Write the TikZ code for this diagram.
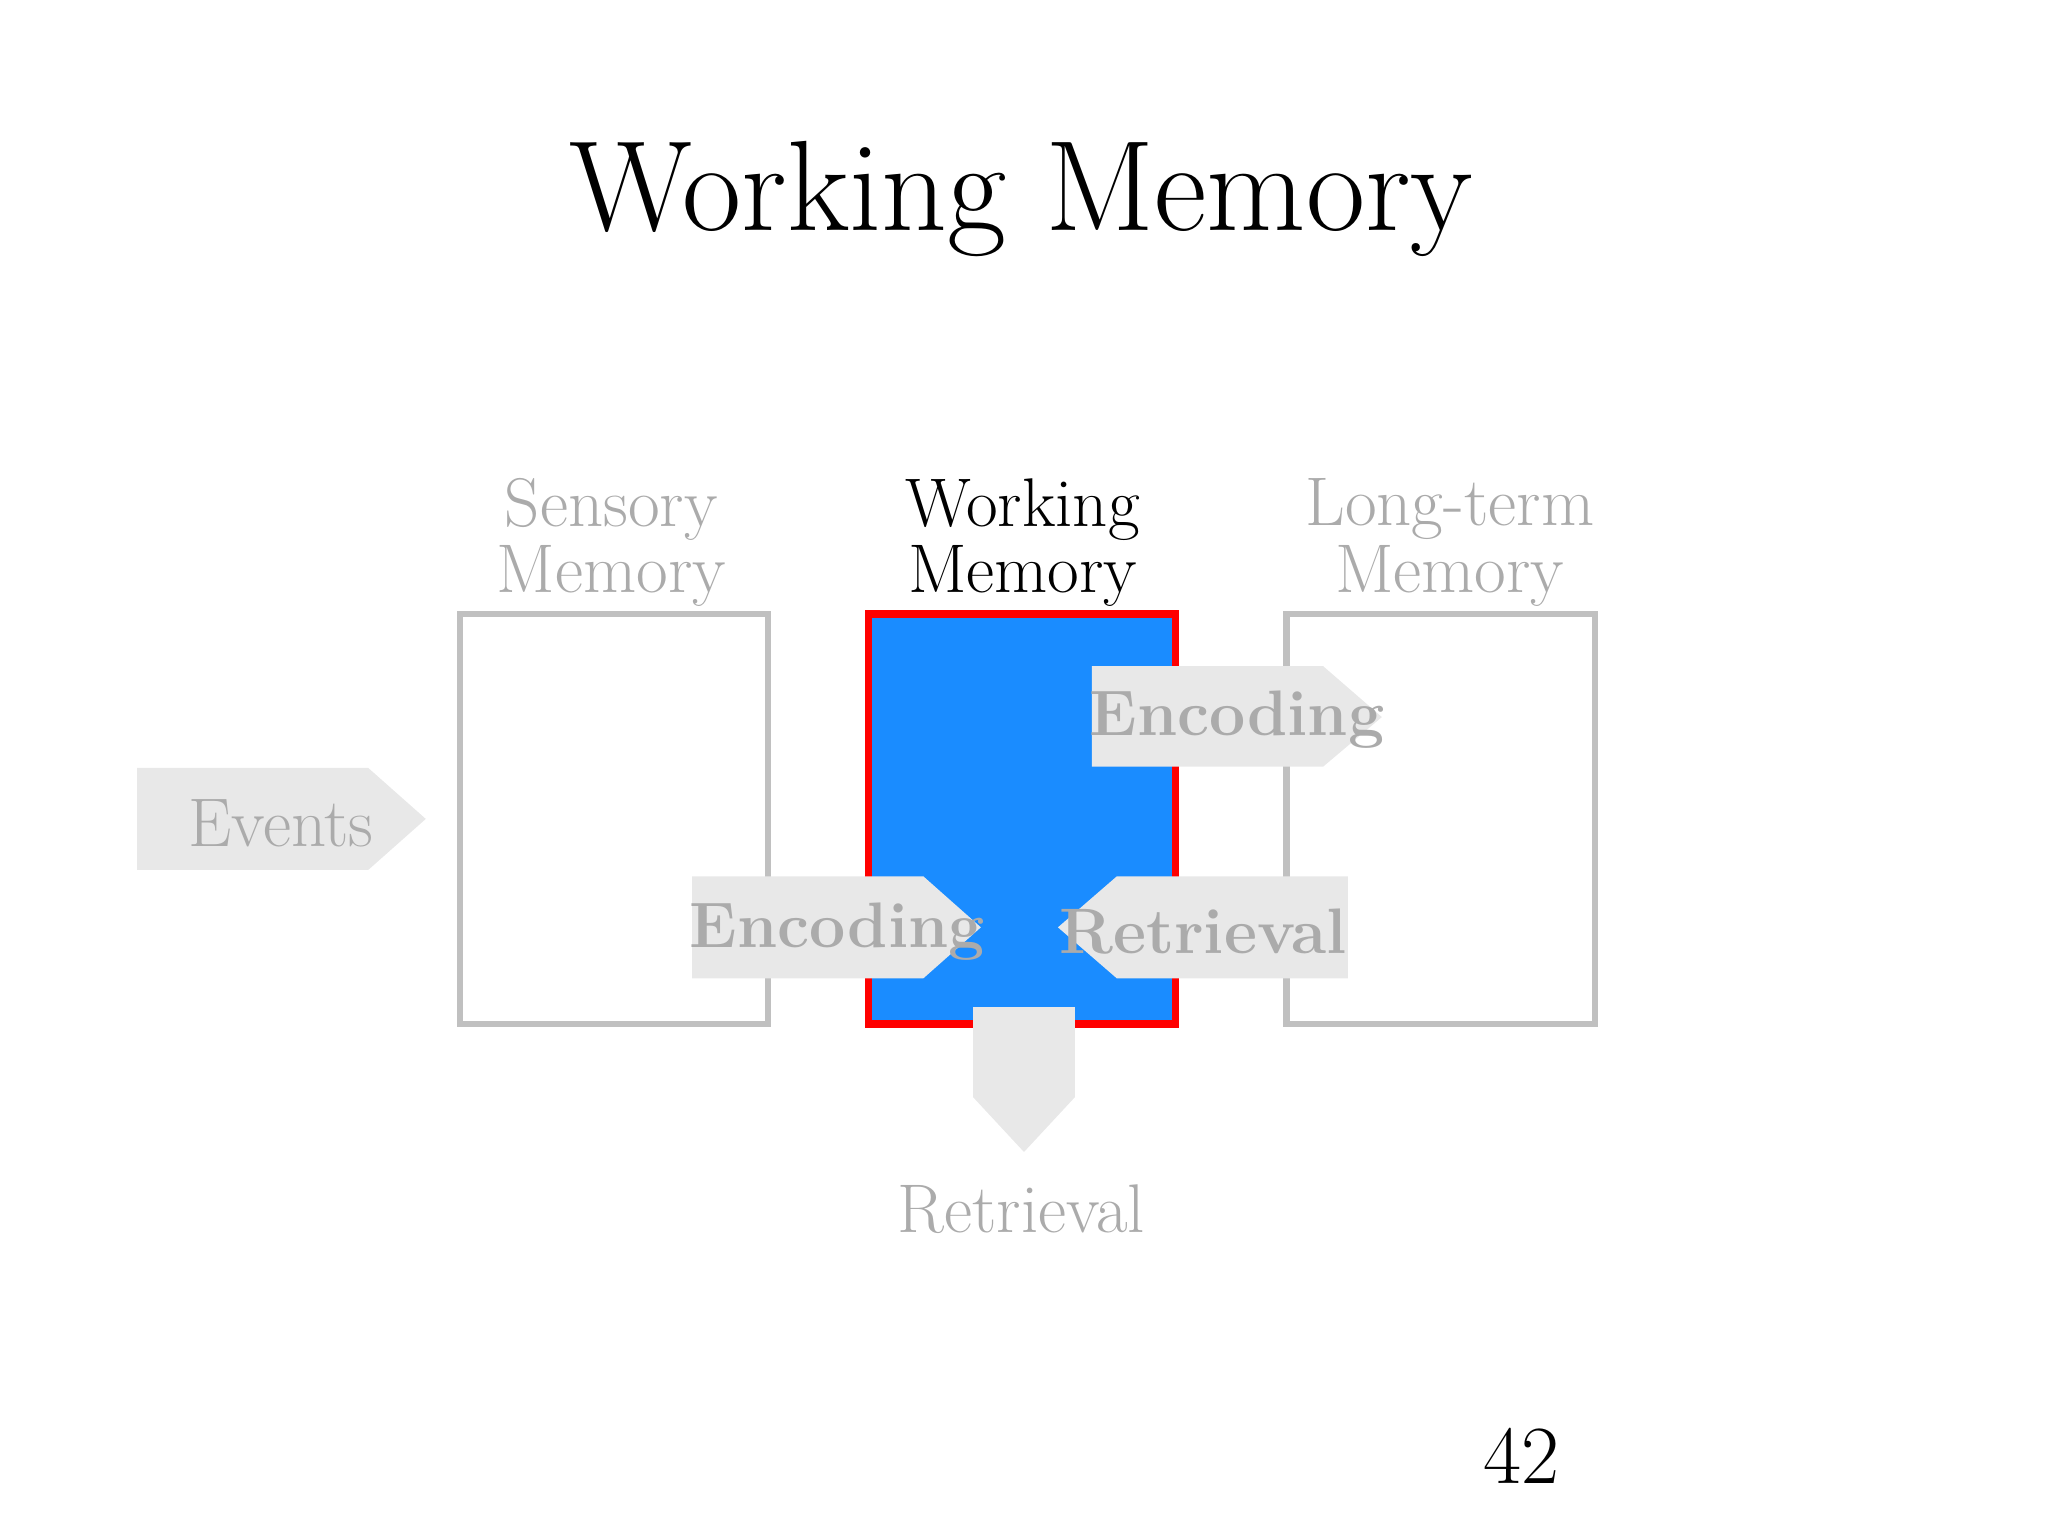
\documentclass[tikz,border=0pt]{standalone}
\definecolor{wmblue}{HTML}{1A8CFF}
\definecolor{boxgray}{HTML}{C0C0C0}
\definecolor{arrfill}{HTML}{E8E8E8}
\definecolor{txtgray}{HTML}{ABABAB}
\tikzset{
  membox/.style={draw=boxgray,line width=1.4pt},
  arr/.style={fill=arrfill,draw=none},
  lbl/.style={font=\fontsize{15}{15}\selectfont,text=txtgray,align=center},
  arrlbl/.style={font=\fontsize{14}{14}\selectfont\bfseries,text=txtgray}
}
\begin{document}
\begin{tikzpicture}[x=0.01cm,y=-0.01cm]
\useasboundingbox (0,0) rectangle (1568,1176);
\node[font=\fontsize{28}{28}\selectfont] (title) at (782,152) {Working Memory};
% boxes
\draw[membox] (352,470) rectangle (588,784);
\draw[fill=wmblue,draw=red,line width=1.6pt] (665,470) rectangle (900,784);
\draw[membox] (985,470) rectangle (1221,784);
% labels
\node[lbl,font=\fontsize{15}{15}\selectfont] (s1) at (468,390) {Sensory};
\node[lbl] (s2) at (468,441) {Memory};
\node[lbl,text=black] (w1) at (783,390) {Working};
\node[lbl,text=black] (w2) at (783,441) {Memory};
\node[lbl] (l1) at (1110,390) {Long-term};
\node[lbl] (l2) at (1110,441) {Memory};
% arrows
\fill[arr] (105,588) -- (282,588) -- (326,627) -- (282,666) -- (105,666) -- cycle;
\node[lbl,font=\fontsize{15}{15}\selectfont] (ev) at (215,630) {Events};
\fill[arr] (530,671) -- (707,671) -- (751,710) -- (707,749) -- (530,749) -- cycle;
\node[arrlbl] (enc1) at (641,713) {Encoding};
\fill[arr] (1032,671) -- (855,671) -- (810,710) -- (855,749) -- (1032,749) -- cycle;
\node[arrlbl] (ret1) at (921,713) {Retrieval};
\fill[arr] (836,510) -- (1013,510) -- (1058,549) -- (1013,587) -- (836,587) -- cycle;
\node[arrlbl] (enc2) at (947,551) {Encoding};
\fill[arr] (745,771) -- (823,771) -- (823,840) -- (784,882) -- (745,840) -- cycle;
\node[lbl] (ret2) at (782,926) {Retrieval};
\node[font=\fontsize{18}{18}\selectfont] (num) at (1165,1115) {42};
\end{tikzpicture}
\end{document}
